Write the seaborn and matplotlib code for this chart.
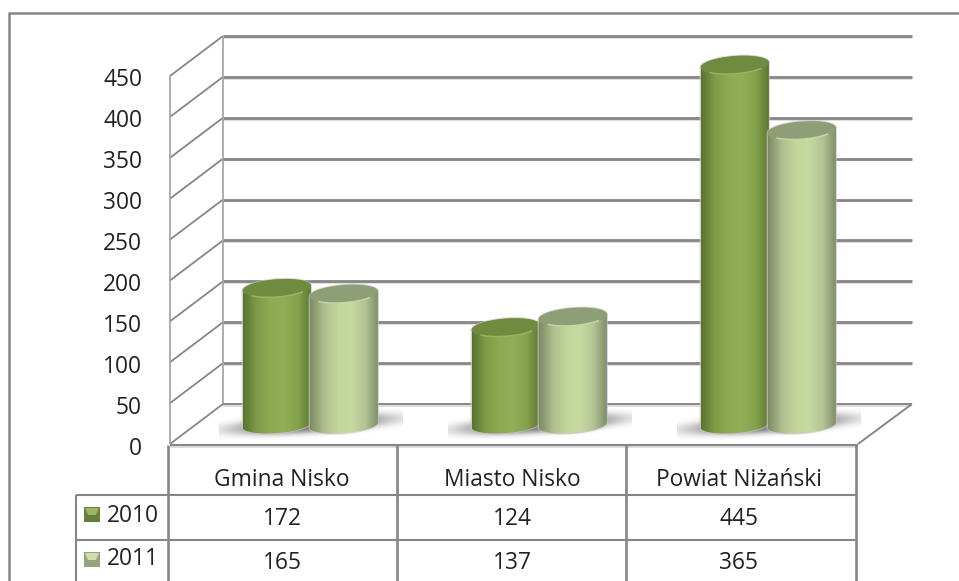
import numpy as np
import pandas as pd
import matplotlib
matplotlib.use('Agg')
import matplotlib.pyplot as plt
import seaborn as sns
from matplotlib.patches import Rectangle, Polygon
from matplotlib.transforms import Affine2D

categories = ['Gmina Nisko', 'Miasto Nisko', 'Powiat Niżański']
values_2010 = [172, 124, 445]
values_2011 = [165, 137, 365]
years = ['2010', '2011']
y_ticks = [0, 50, 100, 150, 200, 250, 300, 350, 400, 450]

W, H = 959, 581
K = 0.8178   # пикселей на единицу
ZERO_PX = 429
GREY = '#868686'
FS = 16.4

sns.set_style('white')
plt.rcParams['font.family'] = ['Open Sans', 'DejaVu Sans']

df = pd.DataFrame({'cat': categories * 2,
                   'val': values_2010 + values_2011,
                   'year': ['2010'] * 3 + ['2011'] * 3})

fig = plt.figure(figsize=(W / 100, H / 100), dpi=100, facecolor='white')
ax = fig.add_axes([0, 0, 1, 1])
sns.barplot(data=df, x='cat', y='val', hue='year', hue_order=years, order=categories,
            palette=['#8dab52', '#c3d69b'], width=0.585, saturation=1, legend=False,
            errorbar=None, ax=ax, zorder=5)
ax.set_xlim(-310 / 229, (W - 310) / 229)
ax.set_ylim(-(H - ZERO_PX) / K, ZERO_PX / K)
ax.axis('off')

# все вспомогательные элементы рисуем в пикселях картинки
px = Affine2D().scale(1, -1).translate(0, H)


def line(xs, ys, color=GREY, lw=1.6, z=1):
    ax.plot(xs, ys, color=color, lw=lw, transform=px, zorder=z, solid_capstyle='butt', clip_on=False)


def label(x, y, s, ha='center'):
    ax.text(x, y + 2, s, transform=px, ha=ha, va='center', fontsize=FS, color='#222222', zorder=9)


# рамка
line([9, W], [12.5, 12.5], lw=1.8)
line([9, 9], [12, H], lw=1.8)

# стенки и сетка
for v in y_ticks:
    back = 404 - v * K
    front = 444 - v * K
    line([223, 912], [back + 1.8, back + 1.8], color='#d8d8d8', lw=1.2)
    if v > 0:
        line([223, 912], [back, back], lw=2)
    line([170, 223], [front, back], lw=1.3)
    label(142, 447 - v * 0.82, str(v), ha='right')
line([170, 170], [444 - 450 * K, 444], color='#a0a0a0', lw=1.2)
line([223, 223], [404 - 450 * K, 404], color='#a0a0a0', lw=1.2)
line([223, 912], [404, 404], lw=1.4)
line([912, 858], [404, 444], lw=1.4)
line([170, 858], [446.5, 446.5], color='#dddddd', lw=1.5)
line([170, 858], [444.5, 444.5], lw=1.5)

# таблица
for x in [168, 397, 626, 856]:
    line([x, x], [445, H], lw=1.9)
line([76, 76], [495, H], lw=1.5)
line([76, 856], [495, 495], lw=1.5)
line([76, 856], [540, 540], lw=1.5)
for i, cat in enumerate(categories):
    cx = [282, 512, 739][i]
    label(cx, 478, cat)
    label(cx, 517, str(values_2010[i]))
    label(cx, 561, str(values_2011[i]))

swatches = [('#66803a', '#9ab563'), ('#94a37c', '#cfdcae')]
for year, sw, ty, ly in zip(years, swatches, [507, 552], [514, 557]):
    ax.add_patch(Rectangle((84, ty), 16, 15, fc=sw[0], ec='none', transform=px, zorder=3))
    ax.add_patch(Polygon([(85, ty + 1), (99, ty + 1), (96, ty + 8), (88, ty + 8)], fc=sw[1], ec='none',
                         transform=px, zorder=3))
    label(107, ly, year, ha='left')

# градиенты цилиндров
ramps = [['#5a7430', '#7f9c48', '#8dab52', '#92af58', '#84a24b', '#5c7631'],
         ['#7d8d66', '#aebd8e', '#c3d69b', '#c6d9a0', '#b4c494', '#7c8c65']]
tops = ['#6f8b3f', '#8e9e76']
rims = ['#a3c060', '#d3e2ad']
grad = []
for r in ramps:
    cols = np.array([matplotlib.colors.to_rgb(c) for c in r])
    t = np.linspace(0, 1, 80)
    grad.append(np.stack([np.interp(t, np.linspace(0, 1, len(r)), cols[:, i]) for i in range(3)], axis=1)[None, :, :])


def ell(cx, cy, a, b, t):
    tilt = np.deg2rad(-4.5)
    xx = a * np.cos(t)
    yy = b * np.sin(t)
    return np.column_stack([cx + xx * np.cos(tilt) - yy * np.sin(tilt), cy + xx * np.sin(tilt) + yy * np.cos(tilt)])


# тени на полу, справа выше чем слева
blur_y, blur_x = np.mgrid[-1:1:80j, -1:1:200j]
shadow = np.zeros((80, 200, 4))
shadow[..., :3] = 0.42
sheared = blur_y + 0.3 * blur_x
shadow[..., 3] = 0.95 * np.exp(-(blur_x ** 2 / 0.76 + sheared ** 2 / 0.2) ** 1.6)
for i in range(3):
    cx = 311 + 229 * i
    ax.imshow(shadow, extent=(cx - 92, cx + 92, 444, 404), transform=px, zorder=2, aspect='auto')

patches = [p for c in ax.containers for p in c]
for n, p in enumerate(patches):
    s = n // 3
    (x0, y0), (x1, y1) = ax.transData.transform([(p.get_x(), 0), (p.get_x() + p.get_width(), p.get_height())])
    x0, x1 = x0 - 0.5, x1 + 1
    y_top = H - y1
    cx, a = (x0 + x1) / 2, (x1 - x0) / 2
    base = ZERO_PX - 4
    body = np.vstack([ell(cx, y_top, a, 9, np.linspace(np.pi, 2 * np.pi, 60)),
                      ell(cx, base, a, 8, np.linspace(0, np.pi, 60))])
    outline = Polygon(body, closed=True, transform=px, fc='none', ec='none')
    ax.add_patch(outline)
    p.set_edgecolor('none')
    p.set_clip_path(outline)
    z = 5 + (p.get_x() + 1.35) * 0.3
    # светлый ореол вокруг столбика
    ax.add_patch(Polygon(body, closed=True, transform=px, fc='none', ec='#c4c4c4', lw=1.5, alpha=0.7, zorder=z - 0.05))
    im = ax.imshow(grad[s], extent=(x0, x1, base + 10, y_top - 12), transform=px, aspect='auto', zorder=z,
                   interpolation='bilinear')
    im.set_clip_path(outline)
    ax.add_patch(Polygon(ell(cx, y_top, a, 9, np.linspace(0, 2 * np.pi, 80)), closed=True, fc=tops[s], ec='none',
                         transform=px, zorder=z + 0.01))
    ax.plot(*ell(cx, y_top, a * 0.97, 8.6, np.linspace(0.7, np.pi - 0.7, 40)).T, color=rims[s], lw=1.1, alpha=0.8,
            transform=px, zorder=z + 0.02)

ax.set_xlim(-310 / 229, (W - 310) / 229)
ax.set_ylim(-(H - ZERO_PX) / K, ZERO_PX / K)
fig.savefig('out.png', dpi=100)
